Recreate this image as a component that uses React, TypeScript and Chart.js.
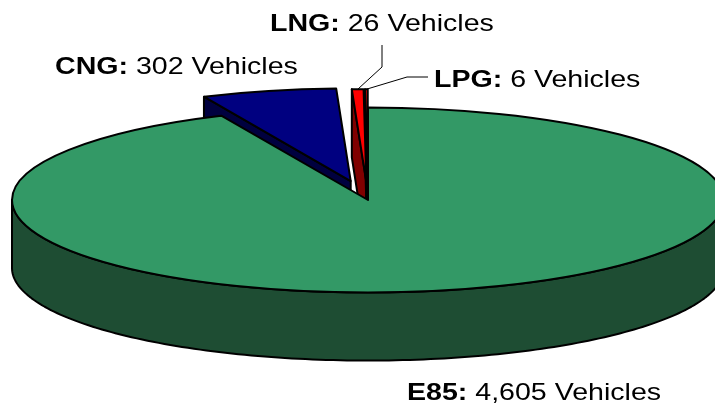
import React, { useEffect, useRef } from "react";
import { Chart, registerables } from "chart.js";

Chart.register(...registerables);

// ---- data ----
const categories = ["E85", "CNG", "LNG", "LPG"];
const vehicles = [4605, 302, 26, 6];
const unitLabel = "Vehicles";

// ---- styles ----
const topColors = ["#339966", "#000080", "#FF0000", "#FF0000"];
const sideColors = ["#1E4D33", "#00003F", "#800000", "#800000"];
const explode = [0, 75, 70, 70];

const TILT = 0.26; // vertical squash of the pie
const DEPTH = 68; // thickness of the pie in px
const FONT = '"Liberation Sans", Arial, sans-serif';
const FONT_SIZE = 24;
const TEXT_STRETCH = 1.19;

// label anchors (left, baseline) and leader-line elbows
const labelAnchors: Record<number, [number, number]> = {
  0: [407, 400],
  1: [55, 74],
  2: [270, 31],
  3: [434, 87],
};
const leaderElbows: Record<number, [number, number][]> = {
  2: [
    [382, 45],
    [382, 67],
  ],
  3: [
    [428, 77],
    [407, 77],
  ],
};

function arcGeometry(chart: any) {
  const meta = chart.getDatasetMeta(0);
  return meta.data.map((el: any, i: number) => {
    const p = el.getProps(["x", "y", "startAngle", "endAngle", "outerRadius"], true);
    const mid = (p.startAngle + p.endAngle) / 2;
    const off = explode[i] || 0;
    const cx = p.x + off * Math.cos(mid);
    const cy = p.y + off * Math.sin(mid) * TILT;
    return { el, i, mid, cx, cy, ...p };
  });
}

function pt(a: any, ang: number, dz = 0): [number, number] {
  return [
    a.cx + a.outerRadius * Math.cos(ang),
    a.cy + a.outerRadius * Math.sin(ang) * TILT + dz,
  ];
}

const pie3d = {
  id: "pie3d",
  beforeDatasetsDraw(chart: any) {
    const ctx: CanvasRenderingContext2D = chart.ctx;
    const arcs = arcGeometry(chart);
    ctx.save();
    ctx.lineJoin = "round";
    ctx.lineWidth = 2;
    ctx.strokeStyle = "#000";

    // sides
    arcs.forEach((a: any) => {
      ctx.fillStyle = sideColors[a.i];
      const face = (ang: number) => {
        const [px, py] = pt(a, ang);
        ctx.beginPath();
        ctx.moveTo(a.cx, a.cy);
        ctx.lineTo(px, py);
        ctx.lineTo(px, py + DEPTH);
        ctx.lineTo(a.cx, a.cy + DEPTH);
        ctx.closePath();
        ctx.fill();
        ctx.stroke();
      };
      if (Math.cos(a.startAngle) < 0) face(a.startAngle);
      if (Math.cos(a.endAngle) > 0) face(a.endAngle);
      const s = Math.max(a.startAngle, 0);
      const e = Math.min(a.endAngle, Math.PI);
      if (e > s) {
        const n = 160;
        ctx.beginPath();
        for (let j = 0; j <= n; j++) {
          const [x, y] = pt(a, s + ((e - s) * j) / n);
          if (j === 0) ctx.moveTo(x, y);
          else ctx.lineTo(x, y);
        }
        for (let j = n; j >= 0; j--) {
          const [x, y] = pt(a, s + ((e - s) * j) / n, DEPTH);
          ctx.lineTo(x, y);
        }
        ctx.closePath();
        ctx.fill();
        ctx.stroke();
      }
    });

    // tops
    arcs.forEach((a: any) => {
      ctx.save();
      ctx.translate(a.cx, a.cy);
      ctx.scale(1, TILT);
      ctx.translate(-a.x, -a.y);
      a.el.draw(ctx);
      ctx.beginPath();
      ctx.moveTo(a.x, a.y);
      ctx.arc(a.x, a.y, a.outerRadius, a.startAngle, a.endAngle);
      ctx.closePath();
      ctx.restore();
      ctx.stroke();
    });
    ctx.restore();
    return false;
  },
  afterDraw(chart: any) {
    const ctx: CanvasRenderingContext2D = chart.ctx;
    const arcs = arcGeometry(chart);
    ctx.save();
    // leader lines
    ctx.strokeStyle = "#000";
    ctx.lineWidth = 1;
    Object.keys(leaderElbows).forEach((k) => {
      const i = Number(k);
      const a = arcs[i];
      const pts = leaderElbows[i];
      const end = pt(a, a.mid);
      ctx.beginPath();
      ctx.moveTo(pts[0][0], pts[0][1]);
      for (let j = 1; j < pts.length; j++) ctx.lineTo(pts[j][0], pts[j][1]);
      ctx.lineTo(end[0], end[1]);
      ctx.stroke();
    });
    // labels
    ctx.fillStyle = "#000";
    ctx.textBaseline = "alphabetic";
    ctx.textAlign = "left";
    categories.forEach((cat, i) => {
      const anchor = labelAnchors[i];
      if (!anchor) return;
      ctx.save();
      ctx.translate(anchor[0], anchor[1]);
      ctx.scale(TEXT_STRETCH, 1);
      ctx.font = `bold ${FONT_SIZE}px ${FONT}`;
      const head = cat + ":";
      ctx.fillText(head, 0, 0);
      const w = ctx.measureText(head).width;
      ctx.font = `${FONT_SIZE}px ${FONT}`;
      ctx.fillText(" " + vehicles[i].toLocaleString("en-US") + " " + unitLabel, w, 0);
      ctx.restore();
    });
    ctx.restore();
  },
};

export default function App() {
  const ref = useRef<HTMLCanvasElement | null>(null);
  useEffect(() => {
    document.body.style.margin = "0";
    const canvas = ref.current;
    if (!canvas) return;
    const chart = new Chart(canvas, {
      type: "pie",
      data: {
        labels: categories,
        datasets: [
          {
            data: vehicles,
            backgroundColor: topColors,
            borderWidth: 0,
            radius: 356,
            clip: false,
          } as any,
        ],
      },
      options: {
        responsive: false,
        animation: false,
        devicePixelRatio: 1,
        rotation: 0,
        events: [],
        layout: { padding: { left: 21, right: 0, top: 0, bottom: 6 } },
        plugins: {
          legend: { display: false },
          tooltip: { enabled: false },
        },
      } as any,
      plugins: [pie3d as any],
    });
    return () => chart.destroy();
  }, []);
  return (
    <div style={{ width: 715, height: 406, background: "#fff" }}>
      <canvas ref={ref} width={715} height={406} style={{ display: "block" }} />
    </div>
  );
}
